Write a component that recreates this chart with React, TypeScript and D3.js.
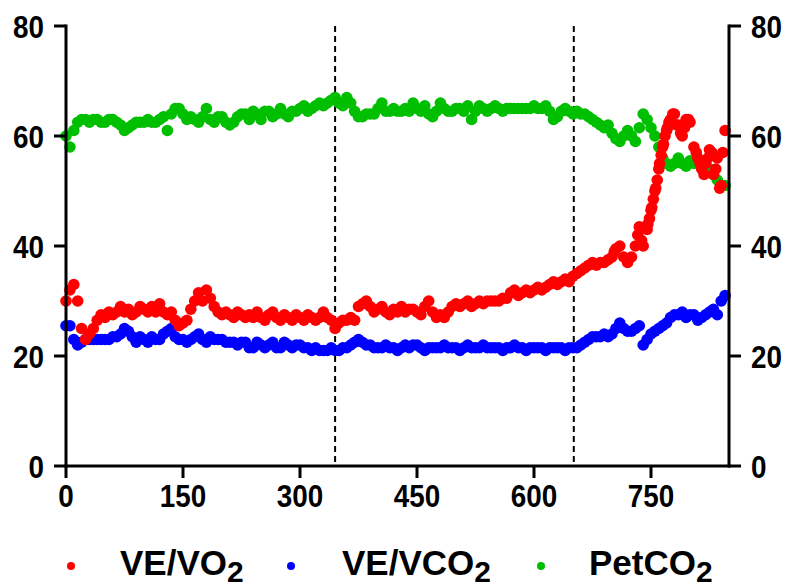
import React from 'react';
import * as d3 from 'd3';

// sampling interval of the main series (s)
const timeStep = 5;

// VE/VO2, one value every 5 s from t = 0
const veVo2 = [
  30, 32, 33, 30, 25, 23, 24, 25, 26.5, 27.5,
  27, 28, 27.5, 28, 29, 28, 28.5, 27.5, 28, 29,
  28.5, 28, 29, 28, 29.5, 28, 27.5, 28, 26.5, 25.5,
  26, 26.5, 28.5, 30, 31.5, 30, 32, 30.5, 29, 28,
  27.5, 28, 27.5, 27, 28, 27.5, 27, 27.5, 27, 28,
  27, 26.5, 27.5, 28, 27, 26.5, 27.5, 27, 26.5, 27.5,
  27, 26.5, 27.5, 27, 26.5, 27, 28, 27, 26.5, 25,
  26, 26.5, 26.5, 27, 26.5, 29, 29.5, 30, 29, 28,
  28.5, 29, 28, 27.5, 28.5, 28, 29, 28, 28.5, 28.5,
  28, 27.5, 29, 30, 28, 27, 27.5, 27, 28, 29,
  29.5, 29, 29.5, 30, 29, 29.5, 30, 29.5, 30, 30,
  30, 30, 30.5, 30.5, 31.5, 32, 31, 31.5, 32, 31.5,
  32, 32.5, 32, 32.5, 33, 33.5, 33, 33.5, 34, 33.5,
  34.5, 35, 35.5, 36, 36.5, 37, 36.5, 37, 37, 37.5,
  38, 39.5, 40, 38, 37, 38, 40, 43.5, 40, 43,
  46.5, 50, 54, 58, 61, 63, 64, 62, 60, 63,
  62.5, 58, 56, 54, 55, 57.5, 53, 56, 51, 61,
];

// extra VE/VO2 readings during the steep rise and the scattered end
const surgeTimes = [703, 733, 738, 743, 746, 748, 751, 753, 756, 758, 761, 763, 766, 768, 771, 773, 778, 783, 788, 793, 798, 808, 813, 818, 823, 828, 833, 838, 842];
const veVo2Surge = [39, 42, 41, 43.5, 44, 45, 47, 48.5, 50.5, 52, 55, 56.5, 58.5, 60, 61.5, 62.5, 64, 62, 60.5, 61.5, 63, 57, 55, 53, 56, 57, 54, 50.5, 57];

// VE/VCO2
const veVco2 = [
  25.5, 25.5, 23, 22, 22.5, 23, 23, 23, 23, 23,
  23, 23, 23.5, 23.5, 24, 25, 24.5, 23.5, 22.5, 23.5,
  23, 22.5, 23.5, 23, 23, 24, 24.5, 25, 23.5, 23,
  23, 22.5, 23, 23.5, 24, 23, 22.5, 23.5, 23, 23,
  23, 22.5, 22.5, 22.5, 22, 22.5, 22.5, 21.5, 21.5, 22.5,
  22, 21.5, 22, 22.5, 21.5, 21.5, 22.5, 22, 21.5, 22,
  22, 21.5, 21.5, 21, 21.5, 21, 21, 21, 21.5, 21,
  21, 21.5, 21.5, 22, 22.5, 23, 22.5, 22, 22, 21.5,
  21.5, 21.5, 22, 21.5, 21.5, 21, 21.5, 22, 21.5, 22,
  22, 21.5, 21, 21.5, 21.5, 21.5, 21.5, 22, 21.5, 21.5,
  21.5, 21, 21.5, 22, 21.5, 21.5, 21.5, 22, 21.5, 21.5,
  21.5, 21.5, 21, 21.5, 21.5, 22, 21.5, 21.5, 21, 21.5,
  21.5, 21.5, 21.5, 21, 21.5, 21.5, 21.5, 21.5, 21, 21.5,
  21.5, 21.5, 22, 22.5, 23, 23.5, 23.5, 23.5, 24, 23.5,
  24, 25, 26, 25, 24.5, 24.5, 25, 25.5, 22, 23,
  24, 24.5, 25, 25.5, 26, 27, 27.5, 27.5, 28, 27,
  27.5, 27.5, 26.5, 27, 27.5, 28, 28.5, 27.5, 30, 31,
];

// PetCO2
const petCo2 = [
  60, 58, 61, 62.5, 63, 63, 62.5, 63, 63, 62.5,
  62.5, 63, 63, 62.5, 62, 61, 61.5, 62, 62.5, 62.5,
  62.5, 63, 62.5, 62.5, 63, 63.5, 61, 64, 65, 65,
  64, 63, 63.5, 63, 62.5, 63.5, 65, 63, 62.5, 63.5,
  63.5, 62.5, 62, 62.5, 63.5, 64, 64, 63, 64.5, 64,
  63, 64.5, 64.5, 63.5, 64, 65, 64, 63.5, 64.5, 64.5,
  65, 65.5, 64.5, 65, 65.5, 66, 65.5, 66, 66.5, 67,
  66, 65.5, 67, 66, 64.5, 63.5, 63.5, 64, 64, 64,
  65, 66, 64.5, 64.5, 65, 64.5, 64.5, 65, 64.5, 66,
  65, 64.5, 65.5, 64, 63.5, 64.5, 66, 65, 64.5, 64.5,
  65, 65, 64.5, 65.5, 63, 64.5, 65.5, 65, 64.5, 65,
  65.5, 65, 64.5, 65, 65, 65, 65, 65, 65, 65,
  65.5, 65, 65, 65.5, 64.5, 63, 63.5, 64.5, 65, 64.5,
  64, 64.5, 64, 64, 63.5, 63, 62.5, 62, 61.5, 62,
  60.5, 59.5, 59, 60, 61, 60, 59, 61.5, 64, 63,
  61.5, 60, 58, 56, 55, 54.5, 55, 56, 55, 54.5,
  55.5, 55, 55, 54.5, 55, 54, 53, 52, 51, 51,
];

const xTicks = [0, 150, 300, 450, 600, 750];
const yTicks = [0, 20, 40, 60, 80];
const thresholds = [345, 651];

const seriesNames = ['VE/VO', 'VE/VCO', 'PetCO'];
const seriesColors = ['#ff0000', '#0000ff', '#00bf00'];

const FONT = '"Liberation Sans", Arial, sans-serif';

function Label({ x, y, anchor, children }: { x: number; y: number; anchor: string; children: React.ReactNode }) {
  return (
    <g transform={`translate(${x},${y}) scale(0.87,1)`}>
      <text x={0} y={0} textAnchor={anchor}>{children}</text>
    </g>
  );
}

export default function App() {
  const x = d3.scaleLinear().domain([0, 850]).range([66, 729]);
  const y = d3.scaleLinear().domain([0, 80]).range([466, 26]);

  const pts = (vals: number[]) => vals.map((v, i) => [i * timeStep, v] as [number, number]);
  const green = pts(petCo2);
  const blue = pts(veVco2);
  const red = pts(veVo2).concat(surgeTimes.map((t, i) => [t, veVo2Surge[i]] as [number, number]));

  const r = 5.8;
  const dots = (data: [number, number][], color: string, key: string) =>
    data.map((d, i) => <circle key={key + i} cx={x(d[0])} cy={y(d[1])} r={r} fill={color} />);

  const legendX = [71, 291, 541];
  const legendTextX = [120, 342, 589];

  return (
    <svg width={790} height={587} style={{ position: 'absolute', left: 0, top: 0, background: '#fff' }}>
      <rect width={790} height={587} fill="#fff" />
      {thresholds.map((t) => (
        <line key={'th' + t} x1={x(t)} x2={x(t)} y1={y(80)} y2={y(0)} stroke="#000" strokeWidth={2} strokeDasharray="6,4" />
      ))}
      <g>{dots(green, seriesColors[2], 'g')}</g>
      <g>{dots(blue, seriesColors[1], 'b')}</g>
      <g>{dots(red, seriesColors[0], 'r')}</g>

      {/* axes */}
      <g stroke="#000" strokeWidth={3} fill="none">
        <line x1={x(0)} x2={x(0)} y1={y(80) - 1.5} y2={y(0) + 1.5} />
        <line x1={x(850)} x2={x(850)} y1={y(80) - 1.5} y2={y(0) + 1.5} />
        <line x1={x(0) - 1.5} x2={x(850) + 1.5} y1={y(0)} y2={y(0)} />
        {yTicks.map((v) => (
          <g key={'yt' + v}>
            <line x1={x(0) - 12} x2={x(0)} y1={y(v)} y2={y(v)} />
            <line x1={x(850)} x2={x(850) + 12} y1={y(v)} y2={y(v)} />
          </g>
        ))}
        {xTicks.map((t) => (
          <line key={'xt' + t} x1={x(t)} x2={x(t)} y1={y(0)} y2={y(0) + 12} />
        ))}
      </g>
      <g fontFamily={FONT} fontWeight="bold" fontSize={32} fill="#000">
        {yTicks.map((v) => (
          <Label key={'yl' + v} x={x(0) - 22} y={y(v) + 11.5} anchor="end">{v}</Label>
        ))}
        {yTicks.map((v) => (
          <Label key={'yr' + v} x={x(850) + 22} y={y(v) + 11.5} anchor="start">{v}</Label>
        ))}
        {xTicks.map((t) => (
          <Label key={'xl' + t} x={x(t)} y={507} anchor="middle">{t}</Label>
        ))}
      </g>

      {/* legend */}
      <g fontFamily={FONT} fontWeight="bold" fontSize={35} fill="#000">
        {seriesNames.map((n, i) => (
          <g key={'lg' + i}>
            <circle cx={legendX[i]} cy={566} r={4} fill={seriesColors[i]} />
            <text x={legendTextX[i]} y={575}>
              {n}
              <tspan fontSize={30} dy={7}>2</tspan>
            </text>
          </g>
        ))}
      </g>
    </svg>
  );
}
